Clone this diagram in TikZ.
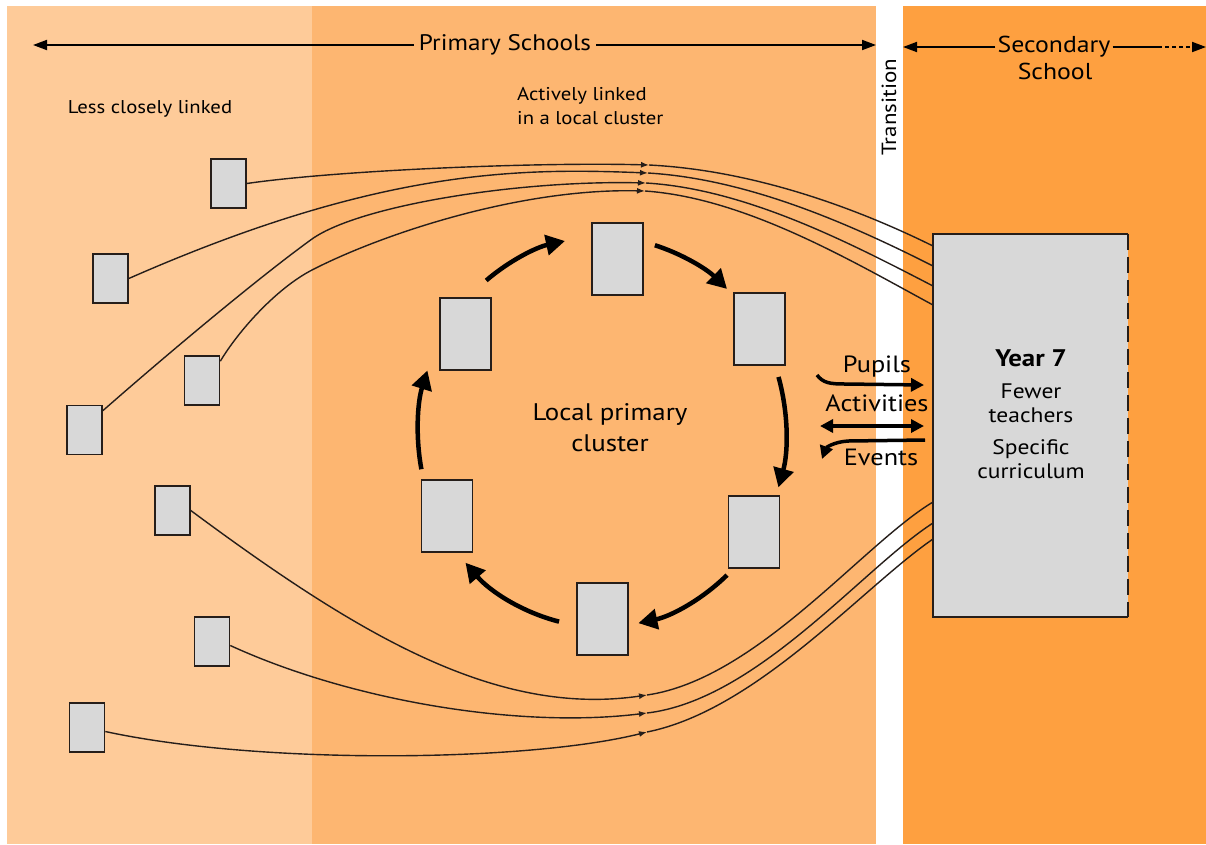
\documentclass[tikz,border=0pt]{standalone}
\usepackage{fontspec}
\setmainfont{PT Sans}[FakeStretch=1.12]
\usetikzlibrary{arrows.meta,calc}

\definecolor{bandlight}{RGB}{254,203,153}
\definecolor{bandmid}{RGB}{253,182,113}
\definecolor{bandsec}{RGB}{254,160,64}
\definecolor{boxgray}{RGB}{216,216,216}
\definecolor{ink}{RGB}{38,30,26}

\newcommand{\fs}[2]{\fontsize{#1}{#2}\selectfont}

\begin{document}
\begin{tikzpicture}[x=1pt,y=-1pt,
  sbox/.style={draw=ink, line width=1.6pt, fill=boxgray, minimum width=35pt, minimum height=49pt, inner sep=0pt},
  cbox/.style={draw=ink, line width=1.6pt, fill=boxgray, minimum width=51pt, minimum height=72pt, inner sep=0pt},
  link/.style={draw=ink, line width=1.4pt},
  linktip/.style={link, -{Latex[length=8pt,width=6pt]}},
  cyc/.style={draw=black, line width=4.5pt, -{Triangle[length=19pt,width=20pt]}},
  hdr/.style={draw=black, line width=1.8pt, -{Triangle[length=14pt,width=10pt]}},
  flowtip/.style={draw=black, line width=3.5pt, -{Triangle[length=13pt,width=13pt]}},
  lbl/.style={inner sep=2pt, text=black},
  hlbl/.style={inner xsep=5pt, inner ysep=2pt, text=black},
]
\useasboundingbox (0,0) rectangle (1206,844);
\fill[white] (0,0) rectangle (1206,844);

% background bands
\fill[bandlight] (7,6) rectangle (312,844);
\fill[bandmid] (312,6) rectangle (876,844);
\fill[bandsec] (903,6) rectangle (1206,844);

% header arrows and labels
\node[hlbl, font=\fs{22.5}{26}] (PS) at (505,45) {Primary Schools};
\coordinate (psl) at (33,45);
\coordinate (psr) at (876,45);
\draw[hdr] (PS.west) -- (psl);
\draw[hdr] (PS.east) -- (psr);

\node[lbl, font=\fs{23}{26}] (SEC) at (1054,47) {Secondary};
\node[lbl, font=\fs{23}{26}] (SCH) at (1055,71) {School};
\coordinate (ssl) at (903,47);
\coordinate (ssm) at (1158,47);
\coordinate (ssr) at (1206,47);
\draw[hdr] (SEC.west) -- (ssl);
\draw[draw=black, line width=1.8pt] (SEC.east) -- (ssm);
\draw[hdr, dash pattern=on 4pt off 3pt] (ssm) -- (ssr);

\node[lbl, rotate=90, font=\fs{20.5}{24}] (TR) at (889,107) {Transition};

\node[lbl, font=\fs{18.5}{22}] (LCL) at (150,109) {Less closely linked};
\node[lbl, font=\fs{18.5}{24}, align=left, anchor=north west] (ALC) at (515,85) {Actively linked\\in a local cluster};

% outer primary schools
\node[sbox] (A) at (228.5,183.5) {};
\node[sbox] (B) at (110.5,278.5) {};
\node[sbox] (C) at (202,380.5) {};
\node[sbox] (D) at (84.5,430) {};
\node[sbox] (E) at (172.5,510.5) {};
\node[sbox] (F) at (212,641.5) {};
\node[sbox] (G) at (87,727.5) {};

% local cluster
\node[cbox] (K1) at (617.5,259) {};
\node[cbox] (K2) at (759.5,329) {};
\node[cbox] (K3) at (754,532) {};
\node[cbox] (K4) at (602.5,619) {};
\node[cbox] (K5) at (447,516) {};
\node[cbox] (K6) at (465.5,334) {};
\node[lbl, font=\fs{24}{31}, align=center] (LPC) at (610,428) {Local primary\\cluster};

\coordinate (cc) at (602,432);
\foreach \a/\b in {-129/-101.6, -73.3/-47.2, -16.4/16.5, 47.2/78.6, 103.5/137.9, 169/198.4}
  \draw[cyc] ([shift={(\a:184 and 195)}]cc) arc[start angle=\a, end angle=\b, x radius=184, y radius=195];

% secondary school box
\node[fill=boxgray, minimum width=195pt, minimum height=383pt, inner sep=0pt] (Y7) at (1030.5,425.5) {};
\draw[ink, line width=2pt] (Y7.north east) -- (Y7.north west) -- (Y7.south west) -- (Y7.south east);
\draw[ink, line width=2pt, dash pattern=on 16pt off 7pt] (Y7.north east) -- (Y7.south east);
\node[lbl, font=\fs{24}{26}\bfseries] (YR) at (1031,358) {Year 7};
\node[lbl, font=\fs{21}{24}, align=center] (FT) at (1031,403) {Fewer\\teachers};
\node[lbl, font=\fs{21}{24}, align=center] (SC) at (1031,459) {Specific\\curriculum};

% exchange arrows
\node[lbl, font=\fs{23.5}{26}] (PU) at (877,367) {Pupils};
\node[lbl, font=\fs{23.5}{26}] (AC) at (877,403) {Activities};
\node[lbl, font=\fs{23.5}{26}] (EV) at (881,457) {Events};
\coordinate (pu1) at (817,375);
\coordinate (pu3) at (845,384);
\coordinate (pu2) at (924,385);
\draw[flowtip] (pu1) .. controls (823,383) and (830,384) .. (pu3) -- (pu2);
\coordinate (ac1) at (820,426);
\coordinate (ac2) at (924,426);
\draw[flowtip, {Triangle[length=13pt,width=13pt]}-{Triangle[length=13pt,width=13pt]}] (ac1) -- (ac2);
\coordinate (ev1) at (925,440);
\coordinate (ev3) at (848,441);
\coordinate (ev2) at (822,459);
\draw[flowtip] (ev1) -- (ev3) .. controls (833,442) and (826,448) .. (ev2);

% entry points on the Year 7 box
\coordinate (ya) at (933,246);
\coordinate (yb) at (933,266);
\coordinate (yd) at (933,286);
\coordinate (yc) at (933,305);
\coordinate (ye) at (933,502);
\coordinate (yf) at (933,523);
\coordinate (yg) at (933,539);

% arrow marks along the links
\coordinate (mA) at (649,165);
\coordinate (mB) at (648,173);
\coordinate (mD) at (646,183);
\coordinate (mC) at (645,191);
\coordinate (mE) at (647,695);
\coordinate (mF) at (647,713);
\coordinate (mG) at (647,732);
\coordinate (vD) at (312,239);
\coordinate (vC) at (312,270);

% links from the upper schools
\draw[linktip] (A.east) .. controls (340,170) and (540,162) .. (mA);
\draw[link] (mA) .. controls (749,170) and (850,205) .. (ya);
\draw[linktip] (B.east) .. controls (380,168) and (520,168) .. (mB);
\draw[link] (mB) .. controls (748,179) and (850,224) .. (yb);
\draw[linktip] ([yshift=-6pt]D.north east) .. controls (172,350) and (262,275) .. (vD)
   .. controls (360,205) and (520,180) .. (mD);
\draw[link] (mD) .. controls (746,189) and (850,243) .. (yd);
\draw[linktip] ([yshift=-6pt]C.north east) .. controls (239,330) and (277,288) .. (vC)
   .. controls (382,234) and (520,188) .. (mC);
\draw[link] (mC) .. controls (745,198) and (850,260) .. (yc);

% links from the lower schools
\draw[linktip] (E.east) .. controls (360,636) and (497,717) .. (mE);
\draw[link] (mE) .. controls (757,679) and (863,544) .. (ye);
\draw[linktip] ([yshift=-4pt]F.east) .. controls (349,700) and (517,729) .. (mF);
\draw[link] (mF) .. controls (757,700) and (863,568) .. (yf);
\draw[linktip] ([yshift=-4pt]G.east) .. controls (260,765) and (527,762) .. (mG);
\draw[link] (mG) .. controls (757,710) and (863,587) .. (yg);
\end{tikzpicture}
\end{document}
